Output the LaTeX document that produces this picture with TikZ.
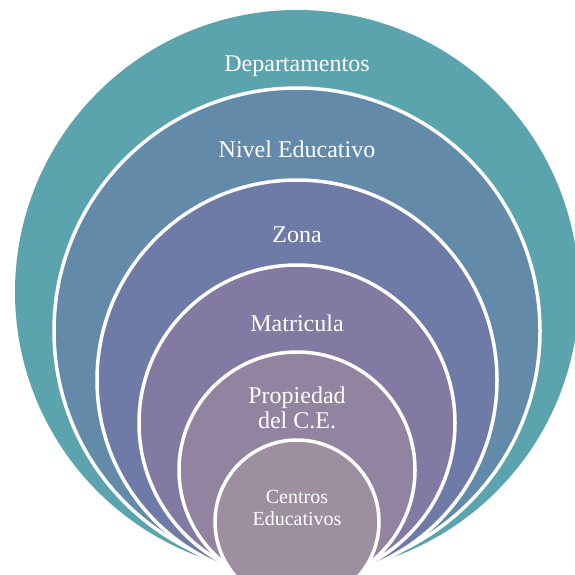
\documentclass[tikz,border=0pt]{standalone}
\usepackage{fontspec}
\setmainfont{Liberation Serif}
\usepackage{xcolor}
\usetikzlibrary{positioning}

\definecolor{ringDep}{RGB}{91,163,173}
\definecolor{ringNiv}{RGB}{100,138,170}
\definecolor{ringZon}{RGB}{111,123,167}
\definecolor{ringMat}{RGB}{130,122,163}
\definecolor{ringPro}{RGB}{146,132,161}
\definecolor{ringCen}{RGB}{157,142,160}

\begin{document}
\begin{tikzpicture}
        [x=1pt,y=-1pt,
          ring/.style={draw=white,line width=3.5pt},
          lbl/.style={text=white,align=center,font=\fontsize{24}{25}\selectfont},
          lblsmall/.style={text=white,align=center,font=\fontsize{20}{22}\selectfont}]
        \useasboundingbox (0,0) rectangle (575,574);
        \clip (0,0) rectangle (575,574);
        % nested circles, outermost first
        \fill[ringDep] (297,292) circle [radius=282pt];
        \filldraw[ring,fill=ringNiv] (297,331) circle [radius=243pt];
        \filldraw[ring,fill=ringZon] (297,380) circle [radius=200pt];
        \filldraw[ring,fill=ringMat] (297,423) circle [radius=158pt];
        \filldraw[ring,fill=ringPro] (297,470) circle [radius=118pt];
        \filldraw[ring,fill=ringCen] (297,522) circle [radius=82pt];
        % labels
        \node[lbl] (dep) at (297,66) {Departamentos};
        \node[lbl] (niv) at (297,149) {Nivel Educativo};
        \node[lbl] (zon) at (297,235) {Zona};
        \node[lbl] (mat) at (297,323) {Matricula};
        \node[lbl] (pro) at (297,408) {Propiedad\\del C.E.};
        \node[lblsmall] (cen) at (297,508) {Centros\\Educativos};
      \end{tikzpicture}
\end{document}
